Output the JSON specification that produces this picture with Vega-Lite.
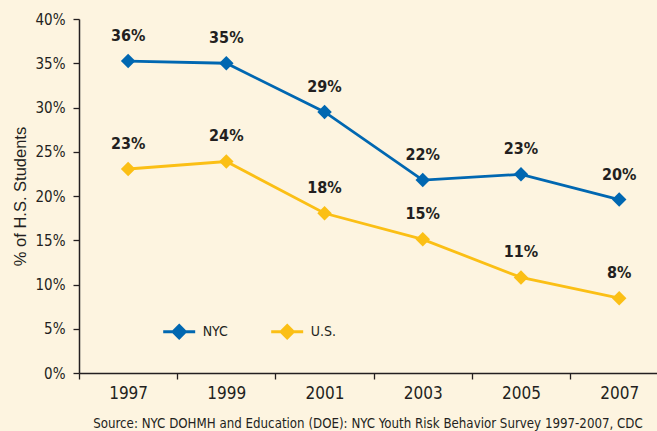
{
  "$schema": "https://vega.github.io/schema/vega-lite/v6.json",
  "width": 578,
  "height": 354,
  "autosize": {"type": "none"},
  "padding": {"left": 79, "top": 19, "right": 0, "bottom": 58},
  "background": "#fdf4e0",
  "config": {
    "view": {"stroke": null},
    "font": "DejaVu Sans Condensed, DejaVu Sans, sans-serif",
    "axis": {
      "domainColor": "#231f20",
      "domainWidth": 1.5,
      "tickColor": "#231f20",
      "tickWidth": 1.3,
      "tickSize": 6,
      "labelColor": "#231f20",
      "labelFont": "DejaVu Sans Condensed, DejaVu Sans, sans-serif",
      "grid": false
    }
  },
  "title": {
    "text": "Source: NYC DOHMH and Education (DOE): NYC Youth Risk Behavior Survey 1997-2007, CDC",
    "orient": "bottom",
    "anchor": "middle",
    "fontSize": 13.2,
    "fontWeight": "normal",
    "font": "DejaVu Sans Condensed, DejaVu Sans, sans-serif",
    "color": "#231f20",
    "offset": 17
  },
  "data": {
    "values": [
      {"year": "1997", "series": "NYC", "pct": 35.25, "label": "36%"},
      {"year": "1999", "series": "NYC", "pct": 35.0, "label": "35%"},
      {"year": "2001", "series": "NYC", "pct": 29.5, "label": "29%"},
      {"year": "2003", "series": "NYC", "pct": 21.8, "label": "22%"},
      {"year": "2005", "series": "NYC", "pct": 22.45, "label": "23%"},
      {"year": "2007", "series": "NYC", "pct": 19.6, "label": "20%"},
      {"year": "1997", "series": "U.S.", "pct": 23.05, "label": "23%"},
      {"year": "1999", "series": "U.S.", "pct": 23.9, "label": "24%"},
      {"year": "2001", "series": "U.S.", "pct": 18.05, "label": "18%"},
      {"year": "2003", "series": "U.S.", "pct": 15.1, "label": "15%"},
      {"year": "2005", "series": "U.S.", "pct": 10.8, "label": "11%"},
      {"year": "2007", "series": "U.S.", "pct": 8.45, "label": "8%"}
    ]
  },
  "encoding": {
    "x": {
      "field": "year",
      "type": "ordinal",
      "scale": {"type": "band", "range": [0, 589.3], "paddingInner": 0, "paddingOuter": 0},
      "axis": {
        "title": null,
        "labelAngle": 0,
        "labelFontSize": 17,
        "labelPadding": 6,
        "tickBand": "extent"
      }
    },
    "y": {
      "field": "pct",
      "type": "quantitative",
      "scale": {"domain": [0, 40], "nice": false},
      "axis": {
        "values": [0, 5, 10, 15, 20, 25, 30, 35, 40],
        "labelExpr": "datum.value + '%'",
        "labelFontSize": 15,
        "labelPadding": 8,
        "title": "% of H.S. Students",
        "titleFont": "Liberation Sans, sans-serif",
        "titleFontSize": 16.5,
        "titleFontWeight": "normal",
        "titleColor": "#231f20",
        "titlePadding": 7
      }
    }
  },
  "layer": [
    {
      "mark": {"type": "line", "strokeWidth": 2.8},
      "encoding": {
        "color": {
          "field": "series",
          "type": "nominal",
          "scale": {"domain": ["NYC", "U.S."], "range": ["#0067b1", "#fbbf15"]},
          "legend": {
            "title": null,
            "orient": "none",
            "direction": "horizontal",
            "legendX": 82.7,
            "legendY": 295,
            "padding": 0,
            "symbolType": "M-1,0H1M0,-0.38L0.38,0L0,0.38L-0.38,0Z",
            "symbolSize": 1024,
            "symbolStrokeWidth": 3,
            "labelFontSize": 14,
            "labelColor": "#231f20",
            "labelOffset": 6,
            "columnPadding": 36,
            "encode": {
              "symbols": {
                "update": {
                  "fill": {"scale": "color", "field": "value"},
                  "stroke": {"scale": "color", "field": "value"},
                  "opacity": {"value": 1}
                }
              }
            }
          }
        }
      }
    },
    {
      "mark": {"type": "point", "shape": "diamond", "filled": true, "size": 210, "opacity": 1},
      "encoding": {
        "color": {"field": "series", "type": "nominal"}
      }
    },
    {
      "mark": {
        "type": "text",
        "dy": -25,
        "fontSize": 16,
        "fontWeight": "bold",
        "color": "#231f20",
        "baseline": "middle"
      },
      "encoding": {
        "text": {"field": "label"}
      }
    }
  ]
}
